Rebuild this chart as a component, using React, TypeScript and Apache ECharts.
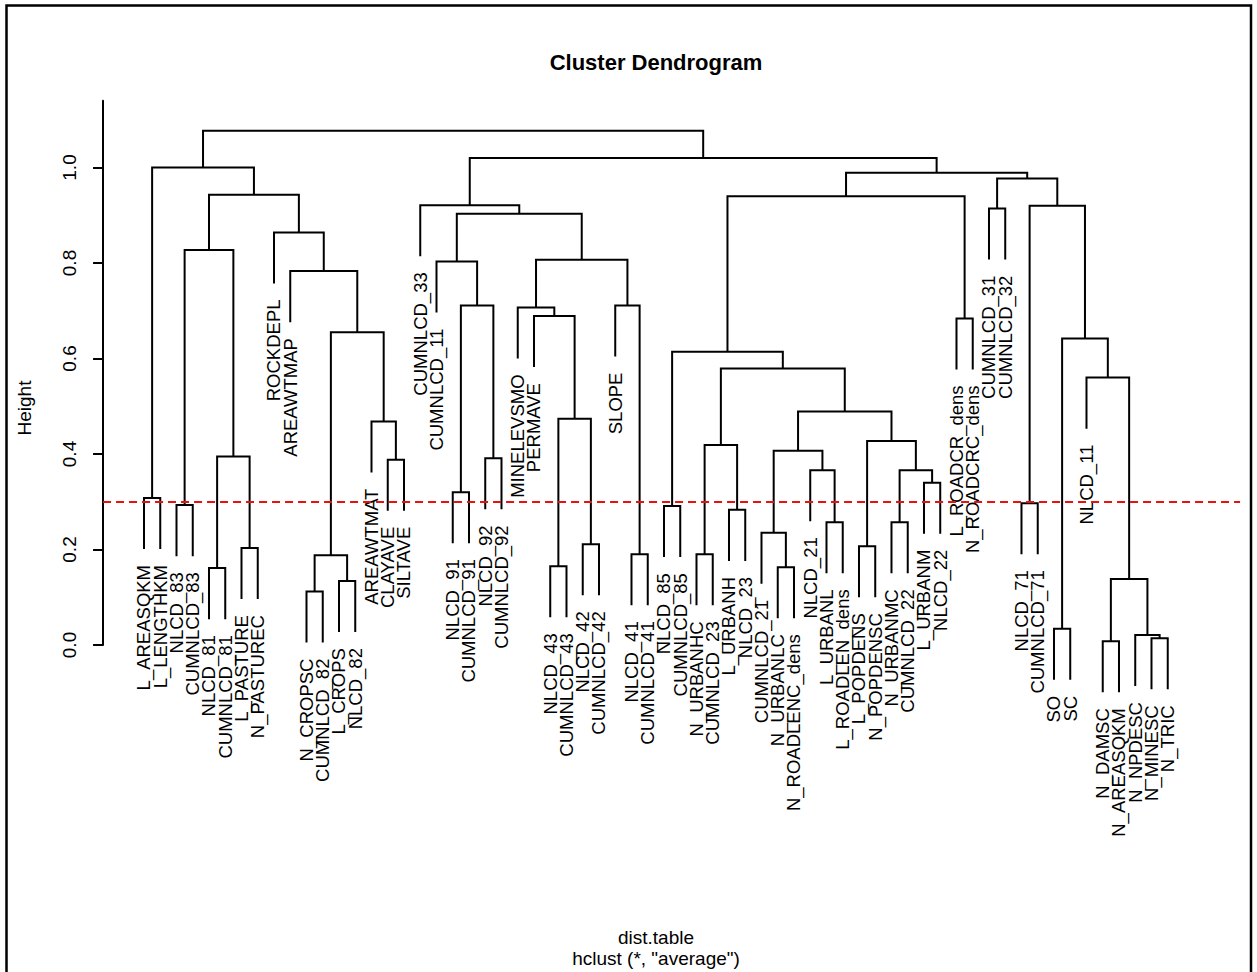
import React, { useEffect, useRef } from "react";
import * as echarts from "echarts";

// Leaf labels in dendrogram order (left to right)
const leafLabels = [
  "L_AREASQKM", "L_LENGTHKM", "NLCD_83", "CUMNLCD_83", "NLCD_81", "CUMNLCD_81",
  "L_PASTURE", "N_PASTUREC", "ROCKDEPL", "AREAWTMAP", "N_CROPSC", "CUMNLCD_82",
  "L_CROPS", "NLCD_82", "AREAWTMAT", "CLAYAVE", "SILTAVE", "CUMNLCD_33",
  "CUMNLCD_11", "NLCD_91", "CUMNLCD_91", "NLCD_92", "CUMNLCD_92", "MINELEVSMO",
  "PERMAVE", "NLCD_43", "CUMNLCD_43", "NLCD_42", "CUMNLCD_42", "SLOPE",
  "NLCD_41", "CUMNLCD_41", "NLCD_85", "CUMNLCD_85", "N_URBANHC", "CUMNLCD_23",
  "L_URBANH", "NLCD_23", "CUMNLCD_21", "N_URBANLC", "N_ROADLENC_dens", "NLCD_21",
  "L_URBANL", "L_ROADLEN_dens", "L_POPDENS", "N_POPDENSC", "N_URBANMC", "CUMNLCD_22",
  "L_URBANM", "NLCD_22", "L_ROADCR_dens", "N_ROADCRC_dens", "CUMNLCD_31", "CUMNLCD_32",
  "NLCD_71", "CUMNLCD_71", "SO", "SC", "NLCD_11", "N_DAMSC",
  "N_AREASQKM", "N_NPDESC", "N_MINESC", "N_TRIC",
];

// Merge table: negative = leaf position (1-based), positive = earlier merge (1-based)
const mergeLeft = [
  -1, -3, -5, -7, 3, 2, -11, -13, 7, -16, -15, 9, -10, -9, 6, 1,
  -20, -22, 17, -19, -26, -28, 21, -25, -24, -31, -30, 25, 20, -18,
  -33, -35, -37, 32, -40, -39, -43, -42, 36, -45, -47, -49, 41, 40, 39, 34, 31, -51, 47,
  -53, -55, -57, -60, -63, -62, 53, -59, 52, 51, 50, 49, 30, 16,
];
const mergeRight = [
  -2, -4, -6, -8, 4, 5, -12, -14, 8, -17, 10, 11, 12, 13, 14, 15,
  -21, -23, 18, 19, -27, -29, 22, 23, 24, -32, 26, 27, 28, 29,
  -34, -36, -38, 33, -41, 35, -44, 37, 38, -46, -48, -50, 42, 43, 44, 45, 46, -52, 48,
  -54, -56, -58, -61, -64, 54, 55, 56, 57, 58, 59, 60, 61, 62,
];
const mergeHeights = [
  0.308, 0.293, 0.161, 0.203, 0.395, 0.827, 0.112, 0.134, 0.188, 0.388, 0.468, 0.655, 0.783, 0.864, 0.943, 1.0,
  0.32, 0.391, 0.711, 0.803, 0.165, 0.211, 0.474, 0.689, 0.707, 0.19, 0.711, 0.807, 0.903, 0.921,
  0.291, 0.19, 0.283, 0.419, 0.163, 0.235, 0.257, 0.366, 0.407, 0.207, 0.257, 0.34, 0.366, 0.427, 0.489, 0.579, 0.614, 0.684, 0.94,
  0.914, 0.297, 0.034, 0.008, 0.014, 0.021, 0.138, 0.56, 0.642, 0.92, 0.977, 0.989, 1.02, 1.077,
];

const yTickValues = [0, 0.2, 0.4, 0.6, 0.8, 1.0];
const yTickLabels = ["0.0", "0.2", "0.4", "0.6", "0.8", "1.0"];
const cutHeight = 0.3;
const hangFraction = 0.1;

const titleText = "Cluster Dendrogram";
const yAxisTitle = "Height";
const xAxisTitle = "dist.table";
const subTitle = 'hclust (*, "average")';

const FONT = '"Liberation Sans", Arial, Helvetica, sans-serif';

export default function App() {
  const ref = useRef<HTMLDivElement>(null);

  useEffect(() => {
    if (!ref.current) return;
    const chart = echarts.init(ref.current, undefined, { renderer: "svg" });

    const hMax = Math.max(...mergeHeights);
    const hMin = Math.min(...mergeHeights);
    const hang = hangFraction * (hMax - hMin);

    const nodeX: number[] = [];
    mergeLeft.forEach((l, i) => {
      const r = mergeRight[i];
      const xl = l < 0 ? -l : nodeX[l - 1];
      const xr = r < 0 ? -r : nodeX[r - 1];
      nodeX[i] = (xl + xr) / 2;
    });

    const leafEnd: number[] = new Array(leafLabels.length).fill(0);
    mergeLeft.forEach((l, i) => {
      const r = mergeRight[i];
      if (l < 0) leafEnd[-l - 1] = mergeHeights[i] - hang;
      if (r < 0) leafEnd[-r - 1] = mergeHeights[i] - hang;
    });

    const childPoint = (c: number, h: number) =>
      c < 0 ? [-c, h - hang] : [nodeX[c - 1], mergeHeights[c - 1]];

    const option: any = {
      animation: false,
      backgroundColor: "#ffffff",
      grid: { left: 103.05, top: 100.65, width: 1137, height: 544.35, containLabel: false },
      xAxis: { type: "value", min: -1.52, max: 68.45, show: false },
      yAxis: {
        type: "value",
        min: 0,
        max: 1.14,
        axisLine: { show: true, onZero: false, lineStyle: { color: "#000", width: 2 } },
        axisTick: { show: true, length: 10, lineStyle: { color: "#000", width: 2 }, customValues: yTickValues },
        axisLabel: {
          customValues: yTickValues,
          rotate: 90,
          margin: 24,
          color: "#000",
          fontSize: 19,
          fontFamily: FONT,
          formatter: (v: number) => {
            let best = 0;
            yTickValues.forEach((t, k) => { if (Math.abs(t - v) < Math.abs(yTickValues[best] - v)) best = k; });
            return yTickLabels[best];
          },
        },
        splitLine: { show: false },
      },
      graphic: [
        { type: "rect", silent: true, z: 100, shape: { x: 6.5, y: 5.5, width: 1244.5, height: 1000 }, style: { fill: "none", stroke: "#000", lineWidth: 2.5 } },
        { type: "text", x: 656, y: 62, style: { text: titleText, font: `bold 22px ${FONT}`, fill: "#000", align: "center", verticalAlign: "middle" } },
        { type: "text", x: 24, y: 408, rotation: Math.PI / 2, style: { text: yAxisTitle, font: `19px ${FONT}`, fill: "#000", align: "center", verticalAlign: "middle" } },
        { type: "text", x: 656, y: 937, style: { text: xAxisTitle, font: `19px ${FONT}`, fill: "#000", align: "center", verticalAlign: "middle" } },
        { type: "text", x: 656, y: 958, style: { text: subTitle, font: `19px ${FONT}`, fill: "#000", align: "center", verticalAlign: "middle" } },
      ],
      series: [
        {
          type: "custom",
          name: "merges",
          clip: false,
          data: mergeHeights.map((h, i) => [nodeX[i], h]),
          renderItem: (params: any, api: any) => {
            const i = params.dataIndex;
            const h = mergeHeights[i];
            const a = childPoint(mergeLeft[i], h);
            const b = childPoint(mergeRight[i], h);
            const pts = [api.coord(a), api.coord([a[0], h]), api.coord([b[0], h]), api.coord(b)];
            return {
              type: "polyline",
              shape: { points: pts },
              style: { stroke: "#000", lineWidth: 2, fill: null },
            };
          },
          markLine: {
            silent: true,
            symbol: "none",
            label: { show: false },
            lineStyle: { color: "#e8120c", type: [8, 5], width: 2 },
            data: [{ yAxis: cutHeight }],
          },
          z: 2,
        },
        {
          type: "custom",
          name: "labels",
          clip: false,
          data: leafLabels.map((name, k) => ({ name, value: [k + 1, leafEnd[k]] })),
          renderItem: (params: any, api: any) => {
            const p = api.coord([api.value(0), api.value(1)]);
            return {
              type: "text",
              x: p[0],
              y: p[1] + 16,
              rotation: Math.PI / 2,
              style: {
                text: leafLabels[params.dataIndex],
                font: `18.5px ${FONT}`,
                fill: "#000",
                align: "right",
                verticalAlign: "middle",
              },
            };
          },
          z: 3,
        },
      ],
    };

    chart.setOption(option);
    return () => chart.dispose();
  }, []);

  return (
    <div
      ref={ref}
      style={{ position: "absolute", left: 0, top: 0, width: 1257, height: 972, background: "#fff" }}
    />
  );
}
